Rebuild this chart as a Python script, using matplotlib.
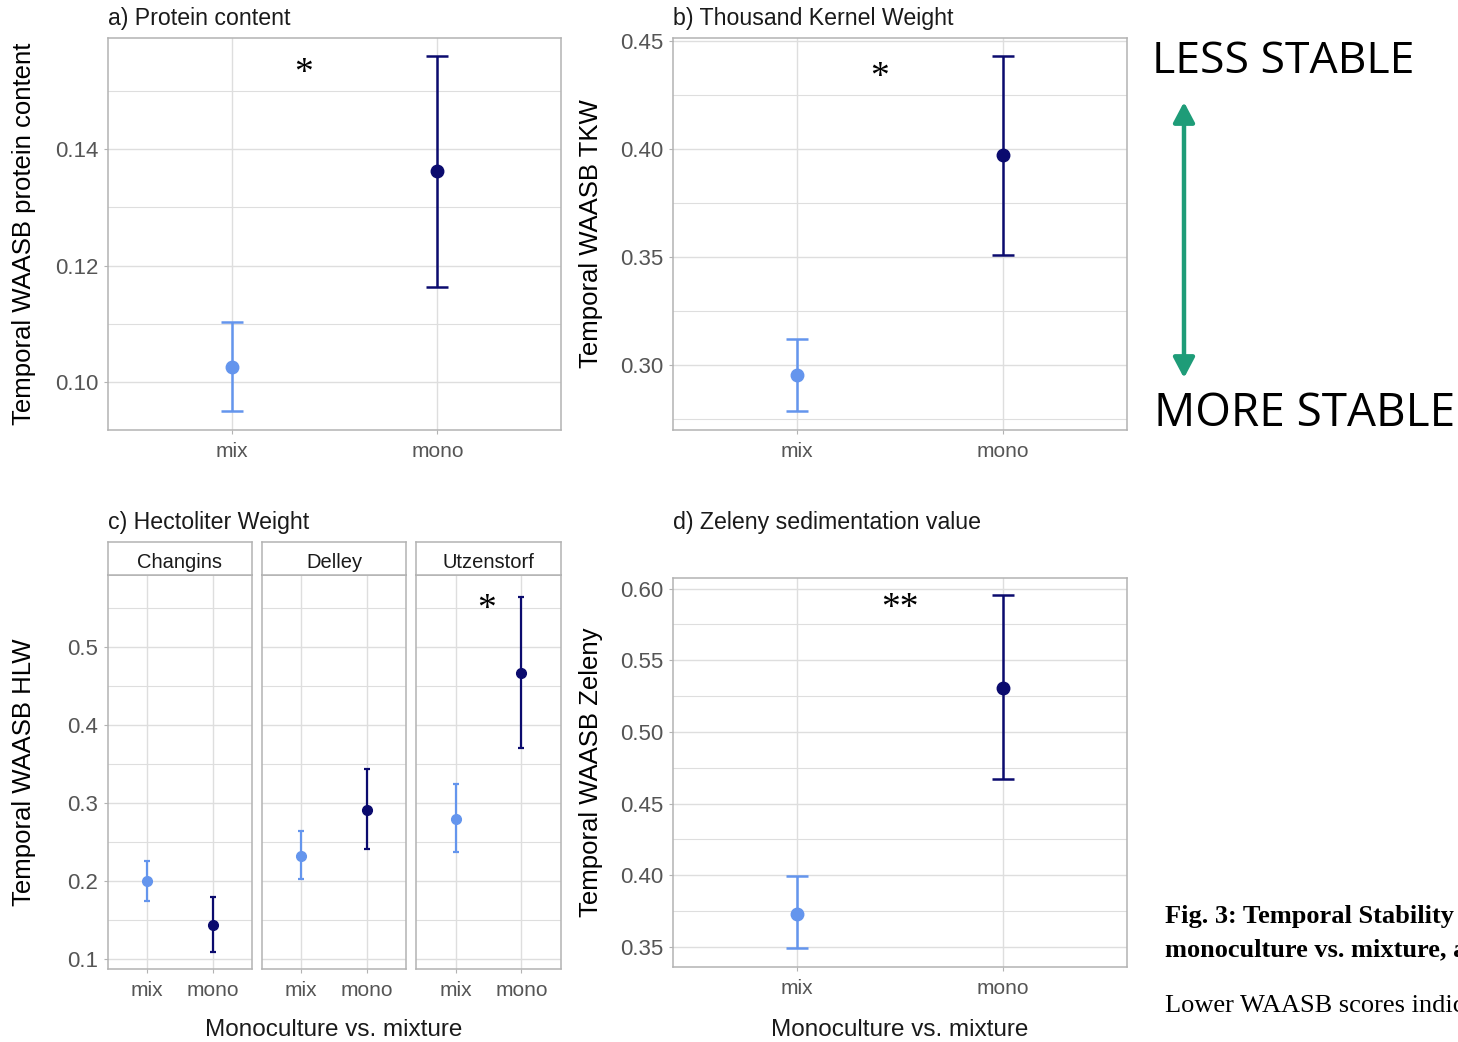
import matplotlib
matplotlib.use("Agg")
import matplotlib.pyplot as plt
from matplotlib.ticker import MultipleLocator

# data
groups = ["mix", "mono"]

protein_mean = [0.1027, 0.1362]
protein_lo = [0.0950, 0.1164]
protein_hi = [0.1103, 0.1560]

tkw_mean = [0.2954, 0.3972]
tkw_lo = [0.2787, 0.3509]
tkw_hi = [0.3120, 0.4430]

zeleny_mean = [0.3732, 0.5310]
zeleny_lo = [0.3493, 0.4675]
zeleny_hi = [0.3993, 0.5955]

hlw_sites = ["Changins", "Delley", "Utzenstorf"]
hlw_mean = [[0.200, 0.143], [0.2327, 0.2916], [0.280, 0.4665]]
hlw_lo = [[0.175, 0.109], [0.2026, 0.241], [0.2375, 0.3705]]
hlw_hi = [[0.2256, 0.179], [0.264, 0.344], [0.3245, 0.5645]]

colors = ["#6495ED", "#0B0B6E"]
grid_col = "#DEDEDE"
border_col = "#B3B3B3"
tick_col = "#555555"

plt.rcParams["font.family"] = ["Liberation Sans", "DejaVu Sans"]

W, H = 1458, 1042
fig = plt.figure(figsize=(W / 100, H / 100), dpi=100)


def px_axes(l, t, r, b):
    # pixel box -> figure fraction axes
    return fig.add_axes([l / W, 1 - b / H, (r - l) / W, (b - t) / H])


def style(ax, ylim, major, minor, fmt, show_y=True):
    ax.set_xlim(0.4, 2.6)
    ax.set_ylim(*ylim)
    ax.set_xticks([1, 2])
    ax.set_xticklabels(groups)
    ax.yaxis.set_major_locator(MultipleLocator(major))
    ax.yaxis.set_minor_locator(MultipleLocator(minor))
    ax.yaxis.set_major_formatter(fmt)
    ax.grid(True, which="major", color=grid_col, lw=1.0)
    ax.grid(True, which="minor", axis="y", color=grid_col, lw=0.8)
    ax.set_axisbelow(True)
    for s in ax.spines.values():
        s.set_color(border_col)
        s.set_linewidth(1.1)
    ax.tick_params(which="major", colors=border_col, length=3, labelcolor=tick_col, pad=4)
    ax.tick_params(axis="x", labelsize=15, pad=5.5)
    ax.tick_params(axis="y", labelsize=16)
    ax.tick_params(which="minor", length=0)
    if not show_y:
        ax.tick_params(axis="y", which="both", left=False, labelleft=False)


def draw(ax, mean, lo, hi, ms=9, lw=1.8, cap=8):
    for i in range(2):
        ax.errorbar(i + 1, mean[i], yerr=[[mean[i] - lo[i]], [hi[i] - mean[i]]],
                    fmt="o", color=colors[i], ms=ms, elinewidth=lw, capsize=cap,
                    capthick=lw, zorder=3)


def star(ax, x, y, s):
    ax.text(x, y, s, ha="center", va="center", fontsize=27,
            family="Liberation Serif", color="black")


# a) protein
ax_a = px_axes(108, 38, 561, 430)
draw(ax_a, protein_mean, protein_lo, protein_hi)
style(ax_a, (0.0918, 0.1591), 0.02, 0.01, "{x:.2f}")
star(ax_a, 1.35, 0.1530, "*")
ax_a.set_ylabel("Temporal WAASB protein content", fontsize=18.5)
ax_a.yaxis.set_label_coords(-0.159, 0.5)

# b) TKW
ax_b = px_axes(673, 38, 1127, 430)
draw(ax_b, tkw_mean, tkw_lo, tkw_hi)
style(ax_b, (0.2699, 0.4514), 0.05, 0.025, "{x:.2f}")
star(ax_b, 1.4, 0.4330, "*")
ax_b.set_ylabel("Temporal WAASB TKW", fontsize=18.5)
ax_b.yaxis.set_label_coords(-0.154, 0.5)

# c) HLW facets
facet_px = [(108, 252), (262, 406), (416, 561)]
c_axes = []
for k, (l, r) in enumerate(facet_px):
    ax = px_axes(l, 575, r, 969)
    draw(ax, hlw_mean[k], hlw_lo[k], hlw_hi[k], ms=7, lw=1.6, cap=2.5)
    style(ax, (0.0872, 0.5923), 0.1, 0.05, "{x:.1f}", show_y=(k == 0))
    # strip
    sax = px_axes(l, 542, r, 575)
    sax.set_xticks([])
    sax.set_yticks([])
    for s in sax.spines.values():
        s.set_color(border_col)
        s.set_linewidth(1.1)
    sax.text(0.5, 0.38, hlw_sites[k], ha="center", va="center", fontsize=14.5,
             color="#1A1A1A", transform=sax.transAxes)
    c_axes.append(ax)
star(c_axes[2], 1.47, 0.548, "*")
c_axes[0].set_ylabel("Temporal WAASB HLW", fontsize=18.5)
c_axes[0].yaxis.set_label_coords(-0.5, 0.5)

# d) Zeleny
ax_d = px_axes(673, 578, 1127, 967)
draw(ax_d, zeleny_mean, zeleny_lo, zeleny_hi)
style(ax_d, (0.336, 0.6074), 0.05, 0.025, "{x:.2f}")
star(ax_d, 1.5, 0.5860, "**")
ax_d.set_ylabel("Temporal WAASB Zeleny", fontsize=18.5)
ax_d.yaxis.set_label_coords(-0.154, 0.5)

# panel titles and x axis titles
for x, y, s in [(108, 18, "a) Protein content"), (673, 18, "b) Thousand Kernel Weight"),
                (108, 522, "c) Hectoliter Weight"), (673, 522, "d) Zeleny sedimentation value")]:
    fig.text(x / W, 1 - y / H, s, ha="left", va="center", fontsize=16.7, color="#1A1A1A")
for x in [334, 900]:
    fig.text(x / W, 1 - 1030 / H, "Monoculture vs. mixture", ha="center", va="center",
             fontsize=17.5, color="#1A1A1A")

# stability arrow and labels
fig.text(1152 / W, 1 - 62 / H, "LESS STABLE", ha="left", va="center", fontsize=32,
         family=["Open Sans", "DejaVu Sans"], color="black")
fig.text(1154 / W, 1 - 414 / H, "MORE STABLE", ha="left", va="center", fontsize=33,
         family=["Open Sans", "DejaVu Sans"], color="black")
fig.add_artist(matplotlib.patches.FancyArrowPatch(
    (1184 / W, 1 - 378 / H), (1184 / W, 1 - 102 / H), transform=fig.transFigure,
    arrowstyle="<|-|>,head_length=0.87,head_width=0.46", mutation_scale=14,
    shrinkA=0, shrinkB=0, color="#1E9C78", lw=3.2))

# caption (cut off at the right edge as in the original)
fig.text(1165 / W, 1 - 916 / H, "Fig. 3: Temporal Stability", ha="left", va="center",
         fontsize=19, family="Liberation Serif", weight="bold")
fig.text(1165 / W, 1 - 950 / H, "monoculture vs. mixture, a", ha="left", va="center",
         fontsize=19, family="Liberation Serif", weight="bold")
fig.text(1165 / W, 1 - 1006 / H, "Lower WAASB scores indicate", ha="left", va="center",
         fontsize=19, family="Liberation Serif")

fig.savefig("out.png", dpi=100)
